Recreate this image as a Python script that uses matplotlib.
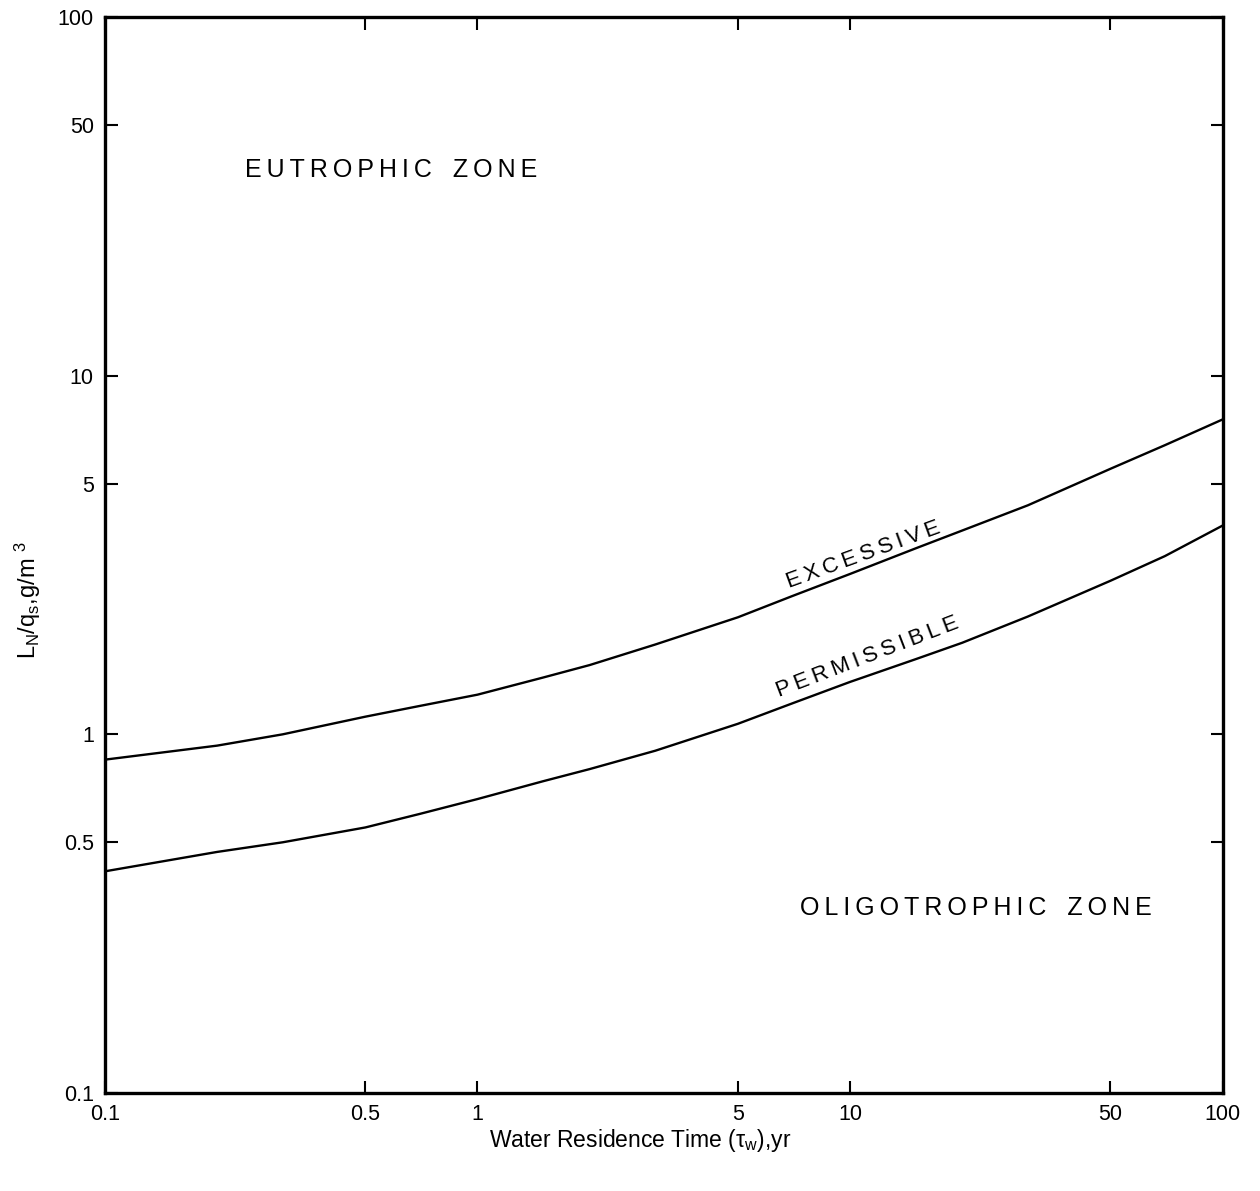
import matplotlib.pyplot as plt
import numpy as np

# values (log-log)
tau = [0.1, 0.2, 0.3, 0.5, 0.7, 1, 1.5, 2, 3, 5, 7, 10, 15, 20, 30, 50, 70, 100]
excessive = [0.85, 0.93, 1.0, 1.12, 1.2, 1.29, 1.44, 1.56, 1.78, 2.12, 2.43,
             2.8, 3.3, 3.7, 4.35, 5.5, 6.4, 7.55]
permissible = [0.415, 0.47, 0.50, 0.55, 0.60, 0.66, 0.74, 0.80, 0.90, 1.07,
               1.22, 1.4, 1.62, 1.8, 2.13, 2.68, 3.14, 3.82]

tick_vals = [0.1, 0.5, 1, 5, 10, 50, 100]
tick_labels = ['0.1', '0.5', '1', '5', '10', '50', '100']

TS = '\u2009'


def spaced(s):
    return TS.join(s)


def main():
    plt.rcParams['font.family'] = ['Liberation Sans', 'DejaVu Sans']
    plt.rcParams['mathtext.fontset'] = 'custom'
    plt.rcParams['mathtext.rm'] = 'Liberation Sans'
    plt.rcParams['mathtext.it'] = 'Liberation Sans'

    fig = plt.figure(figsize=(12.6, 11.91), dpi=100)
    ax = fig.add_axes([0.0833, 0.0823, 0.8870, 0.9034])

    ax.plot(tau, excessive, color='black', lw=1.7)
    ax.plot(tau, permissible, color='black', lw=1.7)

    ax.set_xscale('log')
    ax.set_yscale('log')
    ax.set_xlim(0.1, 100)
    ax.set_ylim(0.1, 100)
    ax.set_xticks(tick_vals)
    ax.set_xticklabels(tick_labels)
    ax.set_yticks(tick_vals)
    ax.set_yticklabels(tick_labels)
    ax.minorticks_off()
    ax.tick_params(direction='in', length=9, width=1.5, top=True, right=True,
                   labelsize=15.5, pad=8)
    for sp in ax.spines.values():
        sp.set_linewidth(2.4)

    ax.text(0.125, 0.858, spaced('EUTROPHIC') + '   ' + spaced('ZONE'),
            transform=ax.transAxes, fontsize=18, va='center', ha='left')
    ax.text(0.622, 0.172, spaced('OLIGOTROPHIC') + '   ' + spaced('ZONE'),
            transform=ax.transAxes, fontsize=18, va='center', ha='left')
    ax.text(0.679, 0.500, spaced('EXCESSIVE'), transform=ax.transAxes,
            fontsize=16, rotation=20, ha='center', va='center',
            rotation_mode='anchor')
    ax.text(0.682, 0.405, spaced('PERMISSIBLE'), transform=ax.transAxes,
            fontsize=16, rotation=21, ha='center', va='center',
            rotation_mode='anchor')

    fig.text(0.508, 0.042, r'Water Residence Time ($\tau_{w}$),yr',
             fontsize=16.5, ha='center', va='center')
    fig.text(0.022, 0.496, r'L$_{N}$/q$_{s}$,g/m $^{3}$', fontsize=17,
             rotation=90, ha='center', va='center')

    plt.savefig('out.png', dpi=100)


if __name__ == '__main__':
    main()
